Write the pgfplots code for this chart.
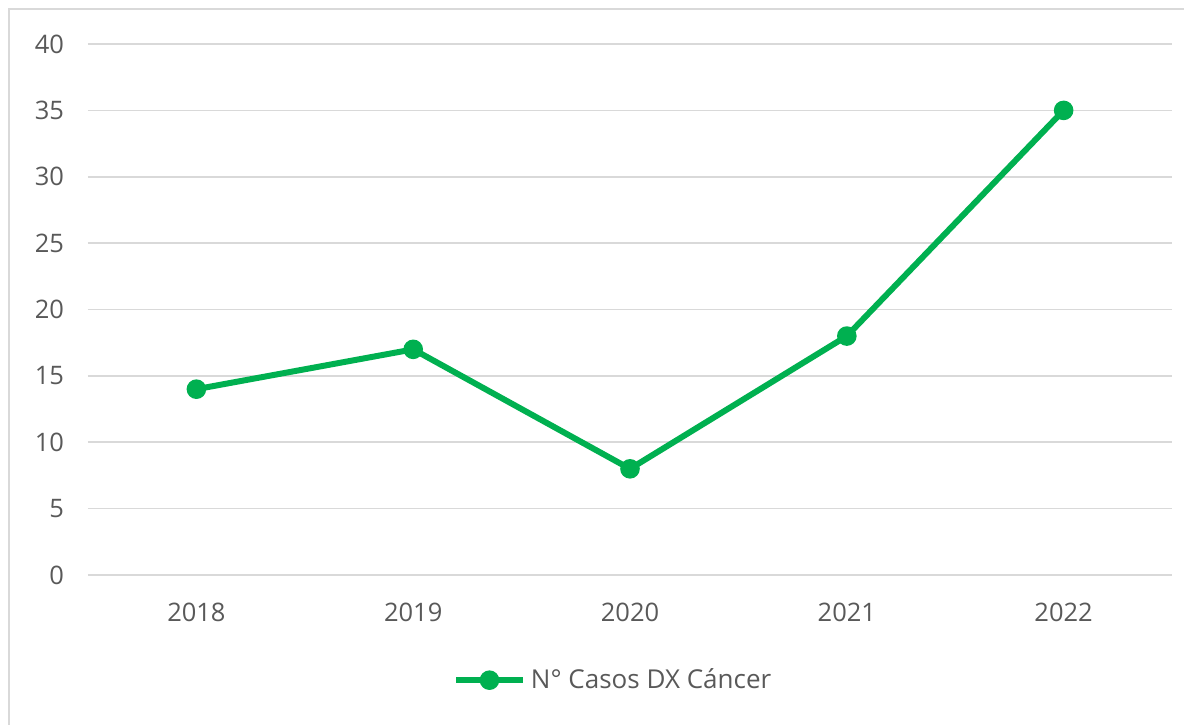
\documentclass[border=0pt]{standalone}
\usepackage{pgfplots}
\pgfplotsset{compat=1.18}
\usepackage{fontspec}
\setmainfont{Open Sans}
\definecolor{linegreen}{HTML}{00B050}
\definecolor{gridgray}{HTML}{D9D9D9}
\definecolor{txtgray}{HTML}{595959}
\begin{document}
\begin{tikzpicture}
\useasboundingbox (0,-9.784) rectangle (16,0);
\draw[gridgray, line width=0.6pt] (0.1216,-0.1216) rectangle (16.3,-10.1);
\begin{axis}[
  at={(1.1892cm,-7.7706cm)},
  anchor=south west,
  scale only axis,
  width=14.649cm,
  height=7.176cm,
  xmin=-0.5, xmax=4.5,
  ymin=0, ymax=40,
  xtick={0,1,2,3,4},
  xticklabels={2018,2019,2020,2021,2022},
  ytick={0,5,...,40},
  axis line style={draw=none},
  major tick length=0pt,
  ymajorgrids,
  major grid style={gridgray, line width=0.6pt},
  tick label style={font=\fontsize{9.8}{11}\selectfont, text=txtgray},
  yticklabel style={xshift=-0.2cm},
  xticklabel style={yshift=-0.25cm},
  /pgf/number format/assume math mode=true,
  legend style={at={(0.486,-0.198)}, anchor=center, draw=none, fill=none,
    font=\fontsize{10}{12}\selectfont, text=txtgray, inner sep=0pt,
    /tikz/every even column/.append style={column sep=0pt}},
  legend image code/.code={
    \draw[linegreen, line width=2.3pt] (0cm,0cm) -- (0.9cm,0cm);
    \fill[linegreen] (0.45cm,0cm) circle (2.6pt);
  },
  legend cell align=left,
]
\addplot[linegreen, line width=2.3pt, mark=*, mark size=2.6pt,
  mark options={fill=linegreen, draw=linegreen}] coordinates {
  (0,14) (1,17) (2,8) (3,18) (4,35)
};
\addlegendentry[xshift=-5pt]{N° Casos DX Cáncer}
\end{axis}
\end{tikzpicture}
\end{document}
